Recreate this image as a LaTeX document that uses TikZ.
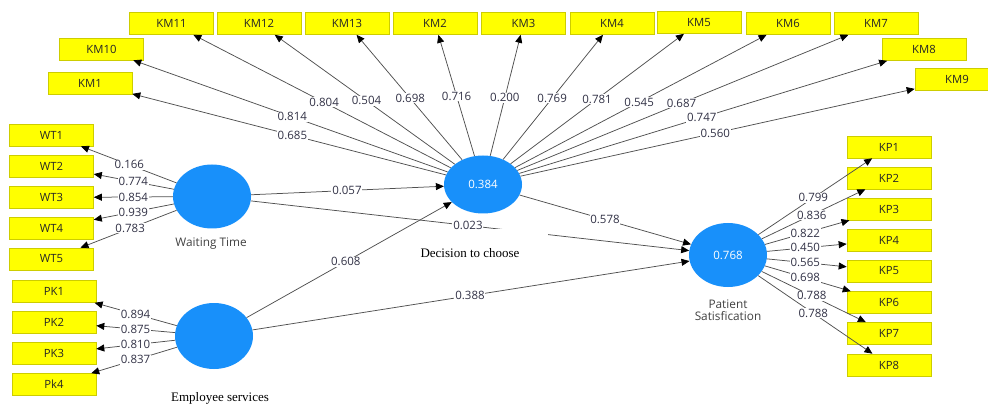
\documentclass[tikz,border=0pt]{standalone}
\usepackage{fontspec}
\setmainfont{Liberation Serif}
\setsansfont{Open Sans}
\usetikzlibrary{arrows.meta,shapes.geometric,calc}
\definecolor{boxfill}{RGB}{255,255,0}
\definecolor{boxline}{RGB}{205,205,0}
\definecolor{lvfill}{RGB}{24,144,250}
\definecolor{edgecol}{RGB}{80,80,80}
\definecolor{numtxt}{RGB}{50,50,70}
\definecolor{nametxt}{RGB}{64,64,64}
\begin{document}
\begin{tikzpicture}[x=1pt,y=-1pt,
  ind/.style={rectangle, fill=boxfill, draw=boxline, line width=0.6pt,
    minimum width=84pt, minimum height=22pt, inner sep=0pt,
    font=\sffamily\fontsize{11.3}{13}\selectfont, text=black!85},
  lat/.style={ellipse, fill=lvfill, minimum width=78pt, minimum height=64pt,
    inner sep=0pt, text=white, font=\sffamily\fontsize{11.5}{13}\selectfont},
  arr/.style={draw=edgecol, line width=0.75pt,
    -{Triangle[length=8pt,width=7pt,color=black]}},
  coef/.style={fill=white, inner sep=0.8pt, text=numtxt,
    font=\sffamily\fontsize{11.5}{13}\selectfont},
  lvname/.style={text=nametxt, font=\sffamily\fontsize{11.8}{13.5}\selectfont, align=center},
  lvserif/.style={text=black, font=\rmfamily\fontsize{13}{15}\selectfont}]
\useasboundingbox (0,0) rectangle (988,406);

% indicator boxes
\node[ind] (km11) at (171.5,23.5) {KM11};
\node[ind] (km12) at (259,23.5) {KM12};
\node[ind] (km13) at (347,23.5) {KM13};
\node[ind] (km2) at (435,23.5) {KM2};
\node[ind] (km3) at (523.5,23.5) {KM3};
\node[ind] (km4) at (612,23.5) {KM4};
\node[ind] (km5) at (699,22.5) {KM5};
\node[ind] (km6) at (788,23.5) {KM6};
\node[ind] (km7) at (876,23.5) {KM7};
\node[ind] (km8) at (924,49.5) {KM8};
\node[ind] (km9) at (957,79.5) {KM9};
\node[ind] (km10) at (101.5,49) {KM10};
\node[ind] (km1) at (90,83) {KM1};

\node[ind] (wt1) at (51.5,135) {WT1};
\node[ind] (wt2) at (51.5,166) {WT2};
\node[ind] (wt3) at (51.5,197.5) {WT3};
\node[ind] (wt4) at (51.5,228) {WT4};
\node[ind] (wt5) at (51.5,259) {WT5};

\node[ind] (pk1) at (54,291.5) {PK1};
\node[ind] (pk2) at (54,322) {PK2};
\node[ind] (pk3) at (54,353.5) {PK3};
\node[ind] (pk4) at (54,384.5) {Pk4};

\node[ind] (kp1) at (889,147) {KP1};
\node[ind] (kp2) at (889,178) {KP2};
\node[ind] (kp3) at (889,209) {KP3};
\node[ind] (kp4) at (889,240) {KP4};
\node[ind] (kp5) at (889,271) {KP5};
\node[ind] (kp6) at (889,302.5) {KP6};
\node[ind] (kp7) at (889,333.5) {KP7};
\node[ind] (kp8) at (889,365) {KP8};

% latent variables
\node[lat] (wt) at (212,196.5) {};
\node[lat, minimum height=66pt] (emp) at (214,336) {};
\node[lat, minimum height=58pt] (dec) at (483,184.5) {0.384};
\node[lat] (pat) at (728,255) {0.768};

% outer loadings
\foreach \k in {km1,km10,km11,km12,km13,km2,km3,km4,km5,km6,km7,km8,km9}
  \draw[arr] (dec) -- (\k);
\foreach \k in {wt1,wt2,wt3,wt4,wt5}
  \draw[arr] (wt) -- (\k);
\foreach \k in {pk1,pk2,pk3,pk4}
  \draw[arr] (emp) -- (\k);
\foreach \k in {kp1,kp2,kp3,kp4,kp5,kp6,kp7,kp8}
  \draw[arr] (pat) -- (\k);

% structural paths
\draw[arr] (wt) -- (dec);
\draw[arr] (wt) -- (pat);
\draw[arr] (emp) -- (dec);
\draw[arr] (emp) -- (pat);
\draw[arr] (dec) -- (pat);

% blank patch under the construct label
\fill[white] (430,229) rectangle (548,266);

% coefficients
\foreach \k/\t/\v in {km1/0.485/0.685, km10/0.5/0.814, km11/0.51/0.804,
    km12/0.52/0.504, km13/0.535/0.698, km2/0.55/0.716, km3/0.54/0.200,
    km4/0.536/0.769, km5/0.528/0.781, km6/0.512/0.545, km7/0.505/0.687,
    km8/0.496/0.747, km9/0.49/0.560}
  \node[coef] at ($(dec)!\t!(\k)$) {\v};
\foreach \k/\t/\v in {wt1/0.515/0.166, wt2/0.49/0.774, wt3/0.49/0.854,
    wt4/0.49/0.939, wt5/0.51/0.783}
  \node[coef] at ($(wt)!\t!(\k)$) {\v};
\foreach \k/\t/\v in {pk1/0.49/0.894, pk2/0.49/0.875, pk3/0.49/0.810,
    pk4/0.49/0.837}
  \node[coef] at ($(emp)!\t!(\k)$) {\v};
\foreach \k/\t/\v in {kp1/0.53/0.799, kp2/0.52/0.836, kp3/0.48/0.822,
    kp4/0.48/0.450, kp5/0.48/0.565, kp6/0.48/0.698, kp7/0.52/0.788,
    kp8/0.53/0.788}
  \node[coef] at ($(pat)!\t!(\k)$) {\v};

\node[coef] at ($(wt)!0.498!(dec)$) {0.057};
\node[coef] at ($(wt)!0.496!(pat)$) {0.023};
\node[coef] at ($(emp)!0.49!(dec)$) {0.608};
\node[coef] at ($(emp)!0.498!(pat)$) {0.388};
\node[coef] at ($(dec)!0.498!(pat)$) {0.578};

% construct names
\node[lvname] (wtname) at (211,244) {Waiting Time};
\node[lvname] (patname) at (728,310) {Patient\\[-1pt]Satisfication};
\node[lvserif] (decname) at (470,253) {Decision to choose};
\node[lvserif] (empname) at (220,398) {Employee services};
\end{tikzpicture}
\end{document}
